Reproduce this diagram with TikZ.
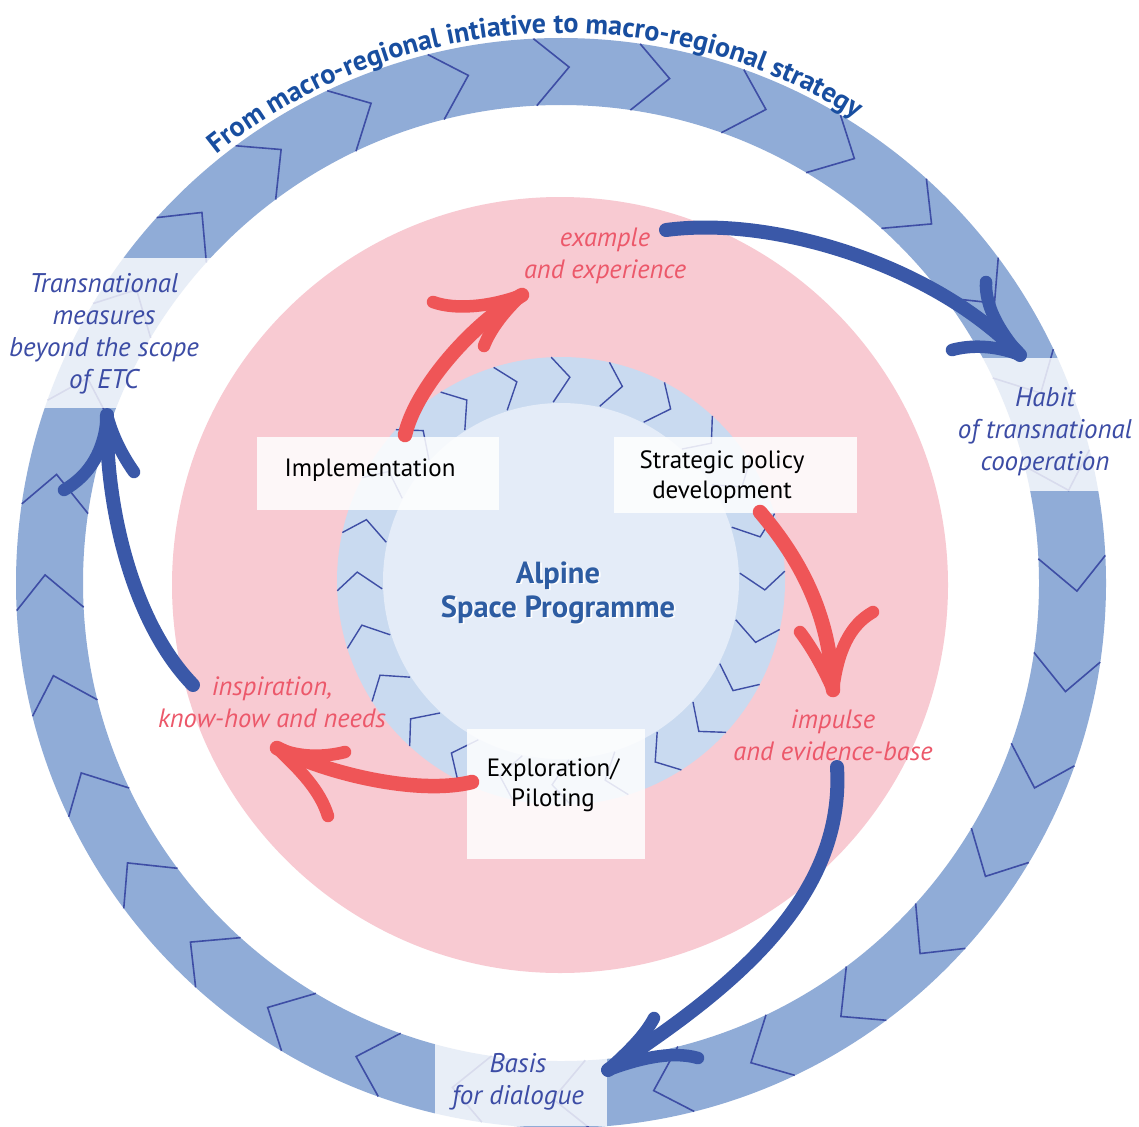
\documentclass[tikz,border=0pt]{standalone}
\usepackage{fontspec}
\setmainfont{PT Sans}
\usetikzlibrary{decorations.text}
\definecolor{ringblue}{RGB}{144,172,215}
\definecolor{chevblue}{RGB}{62,78,165}
\definecolor{pinkbg}{RGB}{248,202,210}
\definecolor{innerring}{RGB}{201,218,240}
\definecolor{innerdisk}{RGB}{228,236,248}
\definecolor{arrred}{RGB}{239,85,87}
\definecolor{arrblue}{RGB}{58,88,168}
\definecolor{txtred}{RGB}{236,88,106}
\definecolor{txtblue}{RGB}{60,76,165}
\definecolor{titleblue}{RGB}{24,78,160}
\definecolor{centerblue}{RGB}{45,92,162}
\newcommand\mytitlefont{\fontsize{28}{28}\selectfont\bfseries\color{titleblue}}
\begin{document}
\begin{tikzpicture}[x=1pt,y=-1pt,
  chev/.style={draw=chevblue,line width=1.6pt},
  ichev/.style={draw=chevblue,line width=1.4pt},
  lbox/.style={fill=white,fill opacity=0.85,draw=none,inner sep=0pt},
  redarrow/.style={draw=arrred,line width=14.5pt,line cap=round},
  redbarb/.style={draw=arrred,line width=12.5pt,line cap=round},
  bluearrow/.style={draw=arrblue,line width=14pt,line cap=round},
  bluebarb/.style={draw=arrblue,line width=12.5pt,line cap=round},
  redlbl/.style={text=txtred,font=\fontsize{26.5}{32}\selectfont\itshape,align=center},
  bluelbl/.style={text=txtblue,font=\fontsize{27}{32}\selectfont\itshape,align=center},
  blacklbl/.style={text=black,font=\fontsize{25}{30}\selectfont,align=center},
  centerlbl/.style={font=\fontsize{30.5}{34}\selectfont\bfseries,align=center},
]
\useasboundingbox (0,0) rectangle (1139,1126);
\fill[white] (0,0) rectangle (1139,1126);
\coordinate (C) at (561,583);
% outer ring
\fill[ringblue,even odd rule] (C) circle[radius=545] (C) circle[radius=478];
\begin{scope}[shift={(C)}]
\foreach \k in {0,...,31}{
  \pgfmathsetmacro\va{-89.1+11.25*\k}
  \pgfmathsetmacro\vb{\va-3.8}
  \draw[chev] (\vb:545) -- (\va:516) -- (\vb:478);
}
\end{scope}
% light patches on the outer ring
\begin{scope}[even odd rule]
\clip (C) circle[radius=546] (C) circle[radius=477];
\fill[white,opacity=0.8] (0,258) rectangle (300,408);
\fill[white,opacity=0.8] (880,358) rectangle (1139,491);
\fill[white,opacity=0.8] (435,900) rectangle (607,1126);
\end{scope}
% pink disk
\fill[pinkbg] (560,585) circle[radius=388];
% inner ring
\coordinate (I) at (561,581);
\fill[innerring] (I) circle[radius=224];
\fill[innerdisk] (I) circle[radius=178];
\begin{scope}[shift={(I)}]
\foreach \k in {0,...,23}{
  \pgfmathsetmacro\va{-87.5+15*\k}
  \pgfmathsetmacro\vb{\va-5}
  \draw[ichev] (\vb:224) -- (\va:204) -- (\vb:179);
}
\end{scope}
% boxes
\node[lbox,minimum width=242pt,minimum height=73pt] (implbox) at (378,473.5) {};
\node[lbox,minimum width=243pt,minimum height=76pt] (stratbox) at (735.5,475) {};
\node[lbox,minimum width=178pt,minimum height=130pt] (explbox) at (556,794) {};
% box texts
\node[blacklbl] (impl) at (370,470) {Implementation};
\node[blacklbl] (strat) at (722,477) {Strategic policy\\development};
\node[blacklbl] (expl) at (553,785) {Exploration/\\Piloting};
% centre
\node[centerlbl,text=white] (centershadow) at (559.8,594.3) {Alpine\\Space Programme};
\node[centerlbl,text=centerblue] (centre) at (558,592.5) {Alpine\\Space Programme};
% red labels
\node[redlbl] (example) at (605,256) {example\\and experience};
\node[redlbl] (impulse) at (833,735) {impulse\\and evidence-base};
\node[redlbl] (inspiration) at (272,702) {inspiration,\\know-how and needs};
% outer labels
\node[bluelbl] (transn) at (104,334) {Transnational\\measures\\beyond the scope\\of ETC};
\node[bluelbl] (habit) at (1045,432) {Habit\\of transnational\\cooperation};
\node[bluelbl] (basis) at (518,1082) {Basis\\for dialogue};
% arrow end points
\coordinate (s1) at (405,435); \coordinate (t1) at (522,295);
\coordinate (s2) at (760,512); \coordinate (t2) at (833,690);
\coordinate (s3) at (472,782); \coordinate (t3) at (277,748);
\coordinate (s4) at (666,230); \coordinate (t4) at (1020,355);
\coordinate (s5) at (837,767); \coordinate (t5) at (608,1070);
\coordinate (s6) at (193,685); \coordinate (t6) at (107,415);
% red arrows
\draw[redarrow] (s1) .. controls (415,390) and (470,325) .. (t1);
\draw[redbarb] (t1) .. controls (490,307) and (455,310) .. (433,302);
\draw[redbarb] (t1) .. controls (505,310) and (490,330) .. (484,346);
\draw[redarrow] (s2) .. controls (805,565) and (830,620) .. (t2);
\draw[redbarb] (t2) .. controls (822,665) and (810,645) .. (800,632);
\draw[redbarb] (t2) .. controls (838,650) and (850,625) .. (873,612);
\draw[redarrow] (s3) .. controls (420,795) and (330,775) .. (t3);
\draw[redbarb] (t3) .. controls (300,758) and (325,757) .. (345,752);
\draw[redbarb] (t3) .. controls (300,770) and (320,790) .. (328,816);
% blue arrows
\draw[bluearrow] (s4) .. controls (780,215) and (940,270) .. (t4);
\draw[bluebarb] (t4) .. controls (998,330) and (985,305) .. (986,282);
\draw[bluebarb] (t4) .. controls (995,345) and (970,345) .. (952,350);
\draw[bluearrow] (s5) .. controls (845,900) and (730,990) .. (t5);
\draw[bluebarb] (t5) .. controls (630,1050) and (645,1035) .. (654,1018);
\draw[bluebarb] (t5) .. controls (635,1060) and (670,1050) .. (698,1058);
\draw[bluearrow] (s6) .. controls (130,620) and (105,500) .. (t6);
\draw[bluebarb] (t6) .. controls (105,450) and (90,475) .. (64,490);
\draw[bluebarb] (t6) .. controls (112,435) and (122,455) .. (134,472);
% title along the arc
\path[decorate,decoration={text along path,text align=center,
  text={|\mytitlefont|From macro-regional intiative to macro-regional strategy}}]
  (C) ++(211.85:550) arc[start angle=211.85,end angle=321.85,radius=550];
\end{tikzpicture}
\end{document}
